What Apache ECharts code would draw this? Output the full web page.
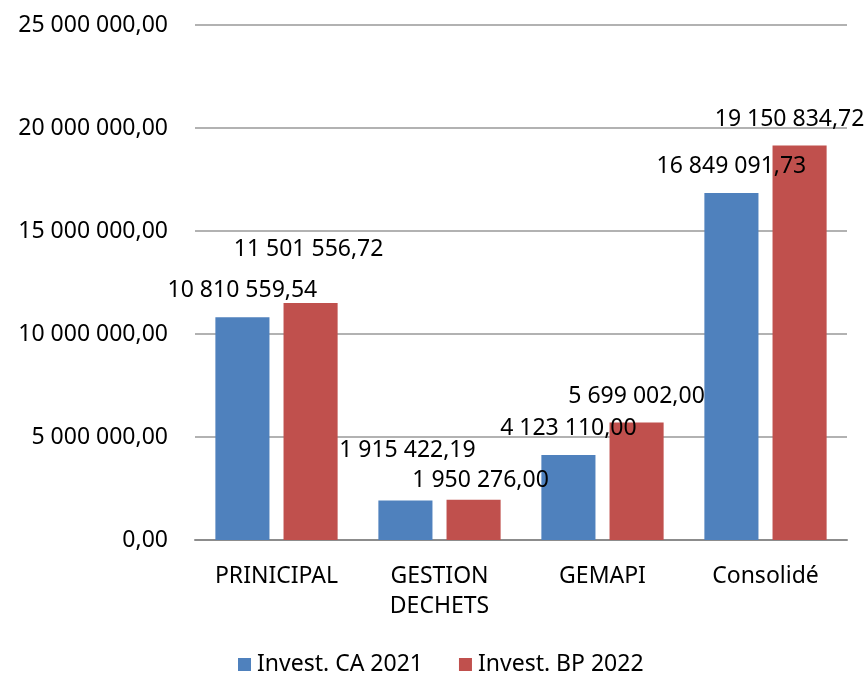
<!DOCTYPE html>
<html>
<head>
<meta charset="utf-8">
<script src="https://cdn.jsdelivr.net/npm/echarts@6/dist/echarts.min.js"></script>
<style>
html,body{margin:0;padding:0;background:#fff;}
#chart{width:868px;height:673px;}
</style>
</head>
<body>
<div id="chart"></div>
<script>
const categories = ['PRINICIPAL', 'GESTION\nDECHETS', 'GEMAPI', 'Consolidé'];
const seriesNames = ['Invest. CA 2021', 'Invest. BP 2022'];
const investCA2021 = [10810559.54, 1915422.19, 4123110.00, 16849091.73];
const investBP2022 = [11501556.72, 1950276.00, 5699002.00, 19150834.72];
const yTicks = [0, 5000000, 10000000, 15000000, 20000000, 25000000];

// label nudges (layout only, mimicking hand-moved Excel labels)
const labelNudgeCA = [[0, 0], [2, -24], [0, 0], [0, 0]];
const labelNudgeBP = [[-2, -27], [7, 7], [0, 0], [-10, 0]];

const FONT = 'Noto Sans';
const FS = 23;

function fmt(v) {
  const parts = Number(v).toFixed(2).split('.');
  const intPart = parts[0].replace(/\B(?=(\d{3})+(?!\d))/g, ' ');
  return intPart + ',' + parts[1];
}

function buildData(values, nudges) {
  return values.map((v, i) => ({
    value: v,
    label: { offset: [nudges[i][0], nudges[i][1]] }
  }));
}

const chart = echarts.init(document.getElementById('chart'), null, { renderer: 'canvas' });
const labelStyle = {
  show: true,
  position: 'top',
  distance: 15,
  color: '#000',
  fontFamily: FONT,
  fontSize: FS,
  formatter: p => fmt(p.value)
};

chart.setOption({
  animation: false,
  textStyle: { fontFamily: FONT },
  grid: { left: 195, right: 21, top: 25, bottom: 133, containLabel: false },
  legend: {
    data: seriesNames,
    left: 233,
    top: 648,
    itemWidth: 13,
    itemHeight: 13,
    itemGap: 36,
    icon: 'rect',
    textStyle: { fontFamily: FONT, fontSize: FS, color: '#000', padding: [0, 0, 0, 1] }
  },
  xAxis: {
    type: 'category',
    data: categories,
    axisLine: { lineStyle: { color: '#8c8c8c', width: 2 } },
    axisTick: { show: false },
    axisLabel: { color: '#000', fontFamily: FONT, fontSize: FS, margin: 21, lineHeight: 30, interval: 0 }
  },
  yAxis: {
    type: 'value',
    min: yTicks[0],
    max: yTicks[yTicks.length - 1],
    interval: yTicks[1] - yTicks[0],
    axisLine: { show: false },
    axisTick: { show: false },
    splitLine: { lineStyle: { color: '#999', width: 1.5 } },
    axisLabel: { color: '#000', fontFamily: FONT, fontSize: FS, margin: 27, formatter: v => fmt(v) }
  },
  series: [
    {
      name: seriesNames[0],
      type: 'bar',
      data: buildData(investCA2021, labelNudgeCA),
      itemStyle: { color: '#4F81BD' },
      barGap: '26%',
      barCategoryGap: '25%',
      label: labelStyle
    },
    {
      name: seriesNames[1],
      type: 'bar',
      data: buildData(investBP2022, labelNudgeBP),
      itemStyle: { color: '#C0504D' },
      barGap: '26%',
      barCategoryGap: '25%',
      label: labelStyle
    }
  ]
});
</script>
</body>
</html>
